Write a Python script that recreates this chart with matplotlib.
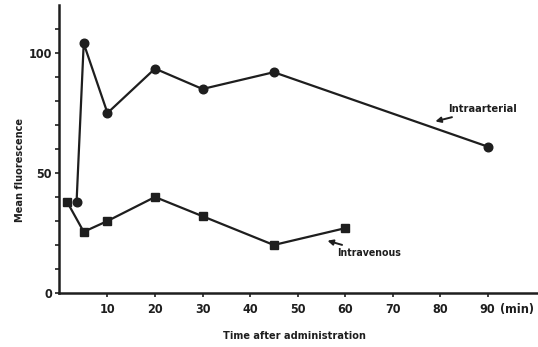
import matplotlib
matplotlib.use("Agg")
import matplotlib.pyplot as plt
from matplotlib import font_manager

# Data
ia_time = [3.5, 5, 10, 20, 30, 45, 90]
ia_value = [38, 104, 75, 93.5, 85, 92, 61]
iv_time = [1.5, 5, 10, 20, 30, 45, 60]
iv_value = [38, 25.5, 30, 40, 32, 20, 27]
x_ticks = [10, 20, 30, 40, 50, 60, 70, 80, 90]
y_ticks = [0, 10, 20, 30, 40, 50, 60, 70, 80, 90, 100, 110]
y_labels = {0: "0", 50: "50", 100: "100"}

ink = "#1e1e1e"


def fp(size):
    return font_manager.FontProperties(family="DejaVu Sans", stretch="condensed",
                                       weight="bold", size=size)


W, H = 538, 347
fig = plt.figure(figsize=(W / 100, H / 100), dpi=100)
left_px, bottom_px, top_px = 59.0, 293.0, 5.0
ax = fig.add_axes([left_px / W, (H - bottom_px) / H, (W - left_px) / W, (bottom_px - top_px) / H])
ax.set_xlim(-0.2, 100.6)
ax.set_ylim(0, 120)

ax.plot(ia_time, ia_value, color=ink, lw=1.6, marker="o", ms=6.2, mfc=ink, mec=ink)
ax.plot(iv_time, iv_value, color=ink, lw=1.6, marker="s", ms=5.8, mfc=ink, mec=ink)

for s in ["top", "right"]:
    ax.spines[s].set_visible(False)
for s in ["left", "bottom"]:
    ax.spines[s].set_linewidth(1.8)
    ax.spines[s].set_color(ink)

ax.set_xticks(x_ticks)
ax.set_xticklabels([str(t) for t in x_ticks])
ax.set_yticks(y_ticks)
ax.set_yticklabels([y_labels.get(t, "") for t in y_ticks])
ax.tick_params(axis="both", direction="out", length=3.2, width=1.2, color=ink,
               labelcolor=ink)
ax.tick_params(axis="x", pad=4)
ax.tick_params(axis="y", pad=2)
for lab in ax.get_xticklabels() + ax.get_yticklabels():
    lab.set_fontproperties(fp(9))

fig.text(500 / W, 1 - 310 / H, "(min)", fontproperties=fp(9),
         color=ink, ha="left", va="center")

fig.text(20 / W, 1 - 170 / H, "Mean fluorescence", rotation=90, fontproperties=fp(7.8),
         color=ink, ha="center", va="center")
fig.text(294 / W, 1 - 336 / H, "Time after administration", fontproperties=fp(7.8),
         color=ink, ha="center", va="center")

# annotations
ax.annotate("Intraarterial", xy=(79, 71.5), xytext=(81.7, 76.5), fontproperties=fp(7.9),
            color=ink, ha="left", va="center",
            arrowprops=dict(arrowstyle="-|>", color=ink, lw=1.4, mutation_scale=8,
                            shrinkA=0, shrinkB=0))
ax.annotate("Intravenous", xy=(56.3, 21.8), xytext=(58.3, 16.8), fontproperties=fp(7.6),
            color=ink, ha="left", va="center",
            arrowprops=dict(arrowstyle="-|>", color=ink, lw=1.4, mutation_scale=8,
                            shrinkA=0, shrinkB=0))

fig.savefig("out.png", dpi=100, facecolor="white")
